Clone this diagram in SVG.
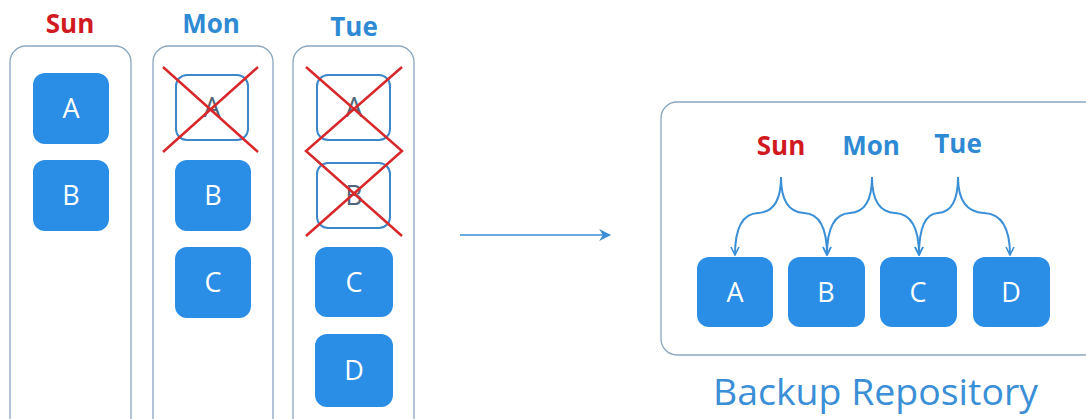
<svg xmlns="http://www.w3.org/2000/svg" width="1086" height="419" viewBox="0 0 1086 419">
<style>
.col{fill:#fff;stroke:#8aa6bf;stroke-width:1.3}
.box{fill:#2a8de6}
.gone{fill:#fff;stroke:#3d88c9;stroke-width:2}
.lt{font-family:"Open Sans","Liberation Sans",sans-serif;font-size:27px;fill:#fff;text-anchor:middle}
.lg{font-family:"Open Sans","Liberation Sans",sans-serif;font-size:27px;fill:#51657a;text-anchor:middle}
.day{font-family:"Open Sans","Liberation Sans",sans-serif;font-size:26px;font-weight:bold;text-anchor:middle}
.sun{fill:#d01a1f}
.blu{fill:#2f8ad4}
.x{stroke:#d8282b;stroke-width:2.5;fill:none}
.br{stroke:#3a8fd6;stroke-width:2;fill:none}
</style>
<defs>
<marker id="v" viewBox="0 0 10 10" refX="9" refY="5" markerWidth="10" markerHeight="10" markerUnits="userSpaceOnUse" orient="auto">
<path d="M1,1 L9,5 L1,9" fill="none" stroke="#3a8fd6" stroke-width="1.6"/>
</marker>
<marker id="f" viewBox="0 0 10 10" refX="9" refY="5" markerWidth="12" markerHeight="12" markerUnits="userSpaceOnUse" orient="auto">
<path d="M0,0 L10,5 L0,10 L3,5 Z" fill="#3a8fd6"/>
</marker>
</defs>

<g id="col-sun">
<text class="day sun" x="70" y="33">Sun</text>
<rect class="col" x="10" y="46" width="121" height="420" rx="16"/>
<g id="sun-a"><rect class="box" x="33" y="73" width="76" height="71" rx="12"/><text class="lt" x="71" y="118">A</text></g>
<g id="sun-b"><rect class="box" x="33" y="160" width="76" height="71" rx="12"/><text class="lt" x="71" y="205">B</text></g>
</g>

<g id="col-mon">
<text class="day blu" x="211" y="33">Mon</text>
<rect class="col" x="153" y="46" width="120" height="420" rx="16"/>
<g id="mon-a"><rect class="gone" x="176" y="75" width="72" height="65" rx="11"/><text class="lg" x="212" y="117">A</text>
<path class="x" d="M163,67 L258,152 M258,67 L163,152"/></g>
<g id="mon-b"><rect class="box" x="175" y="160" width="76" height="71" rx="12"/><text class="lt" x="213" y="205">B</text></g>
<g id="mon-c"><rect class="box" x="175" y="247" width="76" height="71" rx="12"/><text class="lt" x="213" y="292">C</text></g>
</g>

<g id="col-tue">
<text class="day blu" x="354" y="36">Tue</text>
<rect class="col" x="293" y="46" width="121" height="420" rx="16"/>
<g id="tue-a"><rect class="gone" x="317" y="75" width="73" height="65" rx="11"/><text class="lg" x="354" y="117">A</text></g>
<g id="tue-b"><rect class="gone" x="317" y="163" width="73" height="65" rx="11"/><text class="lg" x="354" y="205">B</text></g>
<path class="x" d="M306,67 L402,151 L306,236 M402,67 L306,151 L402,236"/>
<g id="tue-c"><rect class="box" x="315" y="247" width="78" height="70" rx="12"/><text class="lt" x="354" y="292">C</text></g>
<g id="tue-d"><rect class="box" x="315" y="334" width="78" height="73" rx="12"/><text class="lt" x="354" y="380">D</text></g>
</g>

<g id="repo">
<rect class="col" x="661" y="102" width="440" height="253" rx="16"/>
<text class="day sun" x="781" y="155">Sun</text>
<text class="day blu" x="871" y="155">Mon</text>
<text class="day blu" x="958" y="153">Tue</text>
<g id="r-a"><rect class="box" x="697" y="257" width="76" height="70" rx="12"/><text class="lt" x="735" y="302">A</text></g>
<g id="r-b"><rect class="box" x="788" y="257" width="77" height="70" rx="12"/><text class="lt" x="826" y="302">B</text></g>
<g id="r-c"><rect class="box" x="880" y="257" width="77" height="70" rx="12"/><text class="lt" x="918" y="302">C</text></g>
<g id="r-d"><rect class="box" x="973" y="257" width="77" height="70" rx="12"/><text class="lt" x="1011" y="302">D</text></g>
<text x="713" y="405" textLength="325" lengthAdjust="spacingAndGlyphs" font-family="'Open Sans','Liberation Sans',sans-serif" font-size="37" fill="#3a8fd6">Backup Repository</text>
</g>

<g id="connectors">
<line x1="460" y1="235" x2="610" y2="235" stroke="#3a8fd6" stroke-width="1.5" marker-end="url(#f)"/>
<path class="br" marker-end="url(#v)" d="M781,177 Q781,212 758,213 Q735,214 735,255"/>
<path class="br" marker-end="url(#v)" d="M781,177 Q781,212 804,213 Q827,214 827,255"/>
<path class="br" marker-end="url(#v)" d="M872,177 Q872,212 850,213 Q827,214 827,255"/>
<path class="br" marker-end="url(#v)" d="M872,177 Q872,212 895,213 Q919,214 919,255"/>
<path class="br" marker-end="url(#v)" d="M958,177 Q958,212 938,213 Q919,214 919,255"/>
<path class="br" marker-end="url(#v)" d="M958,177 Q958,212 984,213 Q1010,214 1010,255"/>
</g>
</svg>
